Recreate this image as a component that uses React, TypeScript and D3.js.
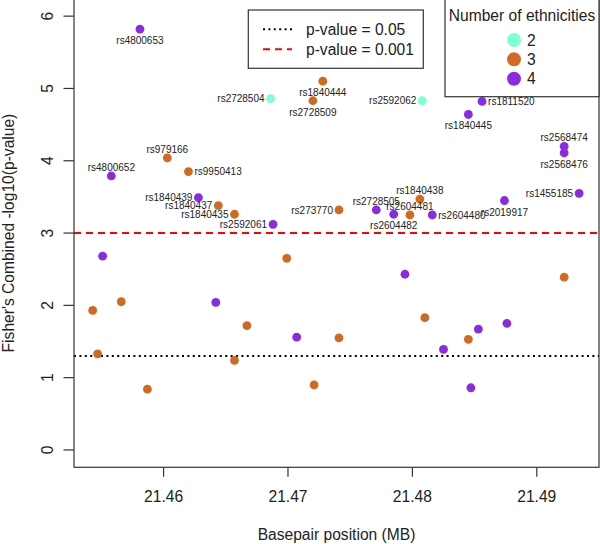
import React from 'react';
import * as d3 from 'd3';

// SNP label per point, '' for unlabelled points
const snpIds = [
  'rs4800653', 'rs2728504', 'rs1840444', 'rs2728509', 'rs2592062', 'rs1811520',
  'rs1840445', 'rs2568474', 'rs2568476', 'rs1455185', 'rs979166', 'rs4800652',
  'rs9950413', 'rs1840439', 'rs1840437', 'rs1840435', 'rs2592061', 'rs273770',
  'rs2728505', 'rs2604482', 'rs2604481', 'rs1840438', 'rs2604480', 'rs2019917',
  '', '', '', '', '', '', '', '', '', '', '', '', '', '', '', '', '', '', '', '',
];

const positionMb = [
  21.4581, 21.4686, 21.4728, 21.4720, 21.4808, 21.4856,
  21.4845, 21.4922, 21.4922, 21.4934, 21.4603, 21.4558,
  21.4620, 21.4628, 21.4644, 21.4657, 21.4688, 21.4741,
  21.4771, 21.4785, 21.4798, 21.4806, 21.4816, 21.4874,
  21.4551, 21.4543, 21.4566, 21.4547, 21.4587, 21.4642, 21.4667, 21.4657, 21.4699, 21.4707,
  21.4721, 21.4741, 21.4794, 21.4810, 21.4825, 21.4845, 21.4853, 21.4847, 21.4876, 21.4922,
];

const combinedScore = [
  5.82, 4.86, 5.10, 4.83, 4.83, 4.82,
  4.64, 4.20, 4.11, 3.55, 4.04, 3.79,
  3.85, 3.49, 3.38, 3.26, 3.12, 3.32,
  3.32, 3.26, 3.25, 3.47, 3.25, 3.45,
  2.68, 1.93, 2.05, 1.33, 0.84, 2.04, 1.72, 1.24, 2.65, 1.56,
  0.90, 1.55, 2.43, 1.83, 1.39, 1.53, 1.67, 0.86, 1.75, 2.39,
];

const ethnicities = [
  4, 2, 3, 3, 2, 4,
  4, 4, 4, 4, 3, 4,
  3, 4, 3, 3, 4, 3,
  4, 4, 3, 3, 4, 4,
  4, 3, 3, 3, 3, 4, 3, 3, 3, 4,
  3, 3, 4, 3, 4, 3, 4, 4, 4, 3,
];

// side of the label as in R's text(pos=): 1 below, 2 left, 3 above, 4 right
const labelPos = [
  1, 2, 1, 1, 2, 4,
  1, 3, 1, 2, 3, 3,
  4, 2, 2, 2, 2, 2,
  3, 1, 3, 3, 4, 1,
];

const xTicks = [21.46, 21.47, 21.48, 21.49];
const yTicks = [0, 1, 2, 3, 4, 5, 6];
const ethnicityLevels = [2, 3, 4];
const ethnicityColors = ['#7fffd4', '#d2691e', '#8a2be2'];
const thresholds = [
  { label: 'p-value = 0.05', value: 0.05 },
  { label: 'p-value = 0.001', value: 0.001 },
];

const W = 600;
const H = 544;
const FONT = '"Liberation Sans", Arial, sans-serif';

export default function App() {
  const x = d3.scaleLinear().domain([21.4528, 21.495]).range([74, 599]);
  const y = d3.scaleLinear().domain([-0.24, 6.24]).range([467.3, -1.2]);
  const color = d3.scaleOrdinal<number, string>().domain(ethnicityLevels).range(ethnicityColors);
  const fmt = d3.format('.2f');

  const lineStyles = [
    { stroke: '#000', dash: '2,3.4' },
    { stroke: '#ff0000', dash: '7,5' },
  ];

  const labelAttrs = (px: number, py: number, pos: number) => {
    if (pos === 1) return { x: px, y: py + 15, anchor: 'middle' };
    if (pos === 3) return { x: px, y: py - 5, anchor: 'middle' };
    if (pos === 2) return { x: px - 6, y: py + 3.6, anchor: 'end' };
    return { x: px + 6, y: py + 3.6, anchor: 'start' };
  };

  const x0 = x.range()[0];
  const x1 = x.range()[1];
  const yb = y.range()[0];
  const yt = y.range()[1];

  return (
    <svg width={W} height={H} style={{ position: 'absolute', left: 0, top: 0, background: '#fff' }}
      fontFamily={FONT}>
      <rect x={0} y={0} width={W} height={H} fill="#fff" />

      {/* threshold lines */}
      {thresholds.map((t, i) => (
        <line key={t.label} x1={x0} x2={x1} y1={y(-Math.log10(t.value))} y2={y(-Math.log10(t.value))}
          stroke={lineStyles[i].stroke} strokeWidth={2} strokeDasharray={lineStyles[i].dash} />
      ))}

      {/* points */}
      {positionMb.map((p, i) => (
        <circle key={i} cx={x(p)} cy={y(combinedScore[i])} r={4.4} fill={color(ethnicities[i])} />
      ))}

      {/* point labels */}
      {snpIds.map((id, i) => {
        if (!id) return null;
        const a = labelAttrs(x(positionMb[i]), y(combinedScore[i]), labelPos[i]);
        return (
          <text key={id} x={a.x} y={a.y} textAnchor={a.anchor} fontSize={10} fill="#222">{id}</text>
        );
      })}

      {/* box */}
      <rect x={x0} y={yt} width={x1 - x0} height={yb - yt} fill="none" stroke="#333" strokeWidth={1.2} />

      {/* x axis */}
      {xTicks.map(t => (
        <g key={t}>
          <line x1={x(t)} x2={x(t)} y1={yb} y2={yb + 9.5} stroke="#333" strokeWidth={1.2} />
          <text x={x(t)} y={502} textAnchor="middle" fontSize={15.6} fill="#222">{fmt(t)}</text>
        </g>
      ))}
      <text x={(x0 + x1) / 2} y={540} textAnchor="middle" fontSize={15.6} fill="#222">Basepair position (MB)</text>

      {/* y axis */}
      {yTicks.map(t => (
        <g key={t}>
          <line x1={x0 - 10.5} x2={x0} y1={y(t)} y2={y(t)} stroke="#333" strokeWidth={1.2} />
          <text transform={`translate(53.3,${y(t)}) rotate(-90)`} textAnchor="middle" fontSize={15.6} fill="#222">{t}</text>
        </g>
      ))}
      <text transform={`translate(13.5,${(yb + yt) / 2}) rotate(-90)`} textAnchor="middle" fontSize={15.6} fill="#222">
        Fisher's Combined -log10(p-value)
      </text>

      {/* legend: threshold lines */}
      <rect x={248.3} y={10} width={175} height={58.3} fill="#fff" stroke="#333" strokeWidth={1.2} />
      {thresholds.map((t, i) => (
        <g key={t.label}>
          <line x1={263} x2={292} y1={29.3 + i * 20} y2={29.3 + i * 20}
            stroke={lineStyles[i].stroke} strokeWidth={2} strokeDasharray={lineStyles[i].dash} />
          <text x={306} y={29.3 + i * 20} dy="0.36em" fontSize={15.6} fill="#222">{t.label}</text>
        </g>
      ))}

      {/* legend: ethnicities */}
      <rect x={445} y={yt} width={x1 - 445} height={96.7 - yt} fill="#fff" stroke="#333" strokeWidth={1.2} />
      <text x={(445 + x1) / 2} y={15} dy="0.36em" textAnchor="middle" fontSize={15.6} fill="#222">Number of ethnicities</text>
      {ethnicityLevels.map((lv, i) => (
        <g key={lv}>
          <circle cx={514} cy={40 + i * 19.35} r={7} fill={color(lv)} />
          <text x={527} y={40 + i * 19.35} dy="0.36em" fontSize={15.6} fill="#222">{lv}</text>
        </g>
      ))}
    </svg>
  );
}
